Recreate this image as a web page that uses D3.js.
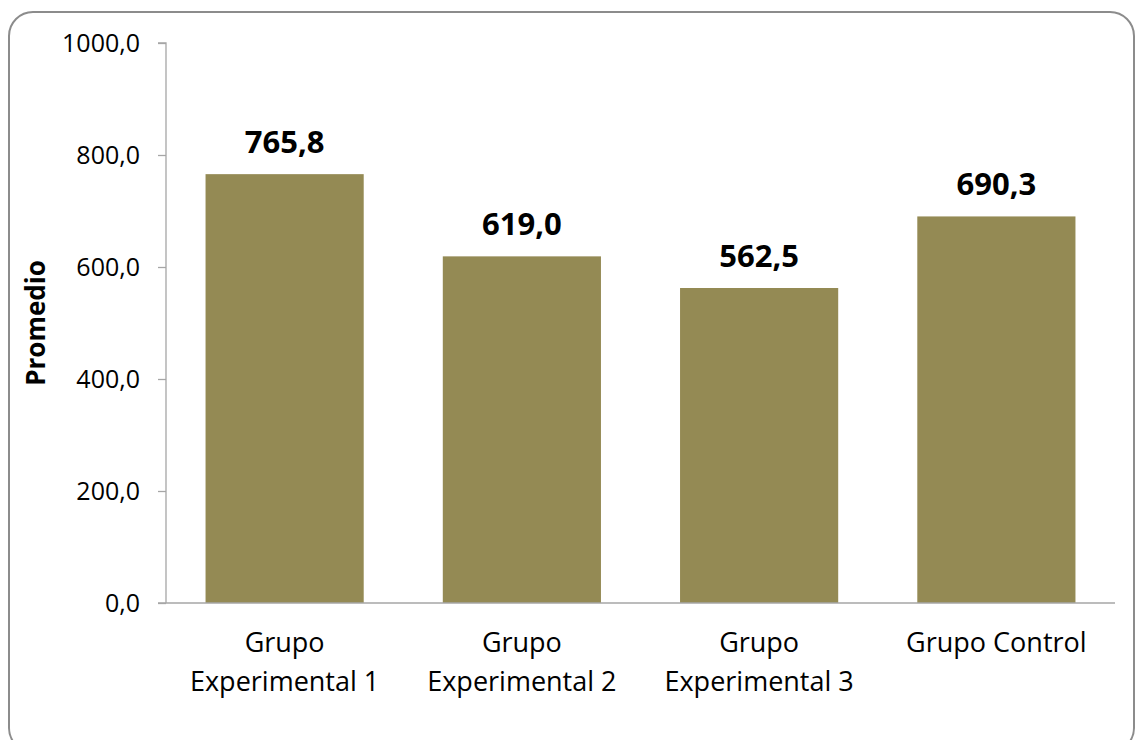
<!DOCTYPE html>
<html><head><meta charset="utf-8">
<script src="https://cdn.jsdelivr.net/npm/d3@7"></script>
<style>body{margin:0;background:#fff}svg{display:block}</style>
</head><body>
<svg id="c" width="1135" height="740"></svg>
<script>
const categories = [["Grupo","Experimental 1"],["Grupo","Experimental 2"],["Grupo","Experimental 3"],["Grupo Control"]];
const values = [765.8, 619.0, 562.5, 690.3];
const yTicks = [0, 200, 400, 600, 800, 1000];
const yTitle = "Promedio";

const svg = d3.select("#c");
const fmt = v => v.toFixed(1).replace(".", ",");
const font = "'Open Sans', 'Noto Sans', sans-serif";

svg.append("rect").attr("x", 9).attr("y", 12).attr("width", 1125).attr("height", 740)
  .attr("rx", 24).attr("ry", 24).attr("fill", "#fff").attr("stroke", "#8c8c8c").attr("stroke-width", 2);

const x0 = 166, x1 = 1115, yTop = 43, yBot = 603;
const x = d3.scaleBand().domain(d3.range(values.length)).range([x0, x1]).paddingInner(1/3).paddingOuter(1/6);
const y = d3.scaleLinear().domain([0, 1000]).range([yBot, yTop]);

// y axis
const ya = svg.append("g").attr("transform", `translate(${x0},0)`)
  .call(d3.axisLeft(y).tickValues(yTicks).tickSize(8).tickPadding(18).tickFormat(fmt));
ya.select(".domain").attr("stroke", "#a6a6a6").attr("stroke-width", 1.3).attr("d", `M-8,${yTop}H0V${yBot}`);
ya.selectAll(".tick line").attr("stroke", "#a6a6a6").attr("stroke-width", 1.3);
ya.selectAll(".tick text").attr("font-family", font).attr("font-size", 25).attr("fill", "#000");

// bars
svg.selectAll("rect.bar").data(values).enter().append("rect").attr("class", "bar")
  .attr("x", (d, i) => x(i)).attr("width", x.bandwidth())
  .attr("y", d => y(d)).attr("height", d => y(0) - y(d)).attr("fill", "#948A54");

// x axis line
svg.append("line").attr("x1", x0 - 8).attr("x2", x1).attr("y1", yBot).attr("y2", yBot)
  .attr("stroke", "#a6a6a6").attr("stroke-width", 1.3);

// value labels
svg.selectAll("text.val").data(values).enter().append("text").attr("class", "val")
  .attr("x", (d, i) => x(i) + x.bandwidth() / 2).attr("y", d => y(d) - 21)
  .attr("text-anchor", "middle").attr("font-family", font).attr("font-weight", "bold")
  .attr("font-size", 31).attr("fill", "#000").text(fmt);

// category labels
categories.forEach((lines, i) => {
  const t = svg.append("text").attr("text-anchor", "middle").attr("font-family", font)
    .attr("font-size", 27).attr("fill", "#000");
  lines.forEach((ln, j) => {
    t.append("tspan").attr("x", x(i) + x.bandwidth() / 2).attr("y", 652 + j * 39).text(ln);
  });
});

// y title
svg.append("text").attr("transform", `translate(45,${(yTop + yBot) / 2}) rotate(-90)`)
  .attr("text-anchor", "middle").attr("font-family", font).attr("font-weight", "bold")
  .attr("font-size", 26).attr("fill", "#000").text(yTitle);
</script>
</body></html>
